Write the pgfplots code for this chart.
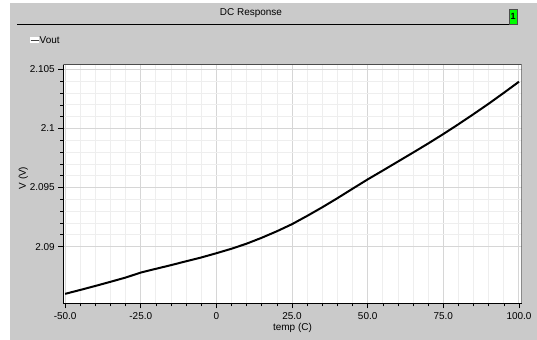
\documentclass[border=0pt]{standalone}
\usepackage{fontspec}
\setmainfont{Liberation Sans}
\usepackage{pgfplots}
\pgfplotsset{compat=1.18}
\definecolor{bggray}{HTML}{CACACA}
\definecolor{majgrid}{HTML}{D6D6D6}
\definecolor{mingrid}{HTML}{EEEEEE}
\begin{document}
\begin{tikzpicture}
\path[use as bounding box] (0bp,0bp) rectangle (537bp,340bp);
\fill[white] (0bp,0bp) rectangle (537bp,340bp);
\fill[bggray] (10bp,0bp) rectangle (537bp,337bp);
% title bar
\node[font=\fontsize{10}{12}\selectfont] at (251bp,327bp) {DC Response};
\draw[black,line width=0.8bp] (17bp,316bp) -- (510bp,316bp);
\draw[fill=green,draw=black!70,line width=0.6bp] (509.5bp,316bp) rectangle (517bp,331bp);
\node[font=\fontsize{9}{10}\selectfont\bfseries,inner sep=0pt] at (513.2bp,323.3bp) {1};
% legend
\fill[white] (30bp,296.5bp) rectangle (39bp,303bp);
\draw[black!75,line width=1bp] (30.5bp,299.8bp) -- (38.5bp,299.8bp);
\node[anchor=west,inner sep=0pt,font=\fontsize{10}{12}\selectfont] at (39.5bp,300bp) {Vout};
\begin{axis}[
  at={(63.3bp,36.7bp)}, anchor=south west,
  scale only axis, width=458.4bp, height=238.6bp,
  xmin=-50.6, xmax=100.9, ymin=2.0852, ymax=2.1054,
  axis background/.style={fill=white},
  axis lines=left, axis line style={-, black, line width=1.2bp},
  xtick={-50,-25,0,25,50,75,100},
  xticklabels={-50.0,-25.0,0,25.0,50.0,75.0,100.0},
  ytick={2.09,2.095,2.1,2.105},
  yticklabels={2.09,2.095,2.1,2.105},
  minor x tick num=4, minor y tick num=4,
  tick align=outside,
  major tick length=5bp, minor tick length=3bp,
  every tick/.style={black, line width=0.6bp},
  grid=both,
  major grid style={majgrid, line width=1bp},
  minor grid style={mingrid, line width=0.8bp},
  tick label style={font=\fontsize{10}{12}\selectfont},
  xticklabel style={yshift=-1bp},
  xlabel={temp (C)}, ylabel={V (V)},
  label style={font=\fontsize{10}{12}\selectfont},
  xlabel style={at={([yshift=-24.5bp]rel axis cs:0.5,0)}, anchor=center},
  ylabel style={at={([xshift=-40bp]rel axis cs:0,0.525)}, anchor=center},
  clip=true,
]
\draw[black!70, line width=0.7bp] (rel axis cs:0,1) -- (rel axis cs:1,1) -- (rel axis cs:1,0);
\addplot[black, line width=2bp, mark=none] coordinates {
(-50,2.08600) (-45,2.08633) (-40,2.08667) (-35,2.08702) (-30,2.08738)
(-25,2.08780) (-20,2.08812) (-15,2.08843) (-10,2.08876) (-5,2.08908)
(0,2.08944) (5,2.08982) (10,2.09025) (15,2.09075) (20,2.09130)
(25,2.09190) (30,2.09260) (35,2.09333) (40,2.09410) (45,2.09490)
(50,2.09569) (55,2.09644) (60,2.09720) (65,2.09796) (70,2.09873)
(75,2.09953) (80,2.10036) (85,2.10122) (90,2.10210) (95,2.10302)
(100,2.10396)
};
\end{axis}
\end{tikzpicture}
\end{document}
